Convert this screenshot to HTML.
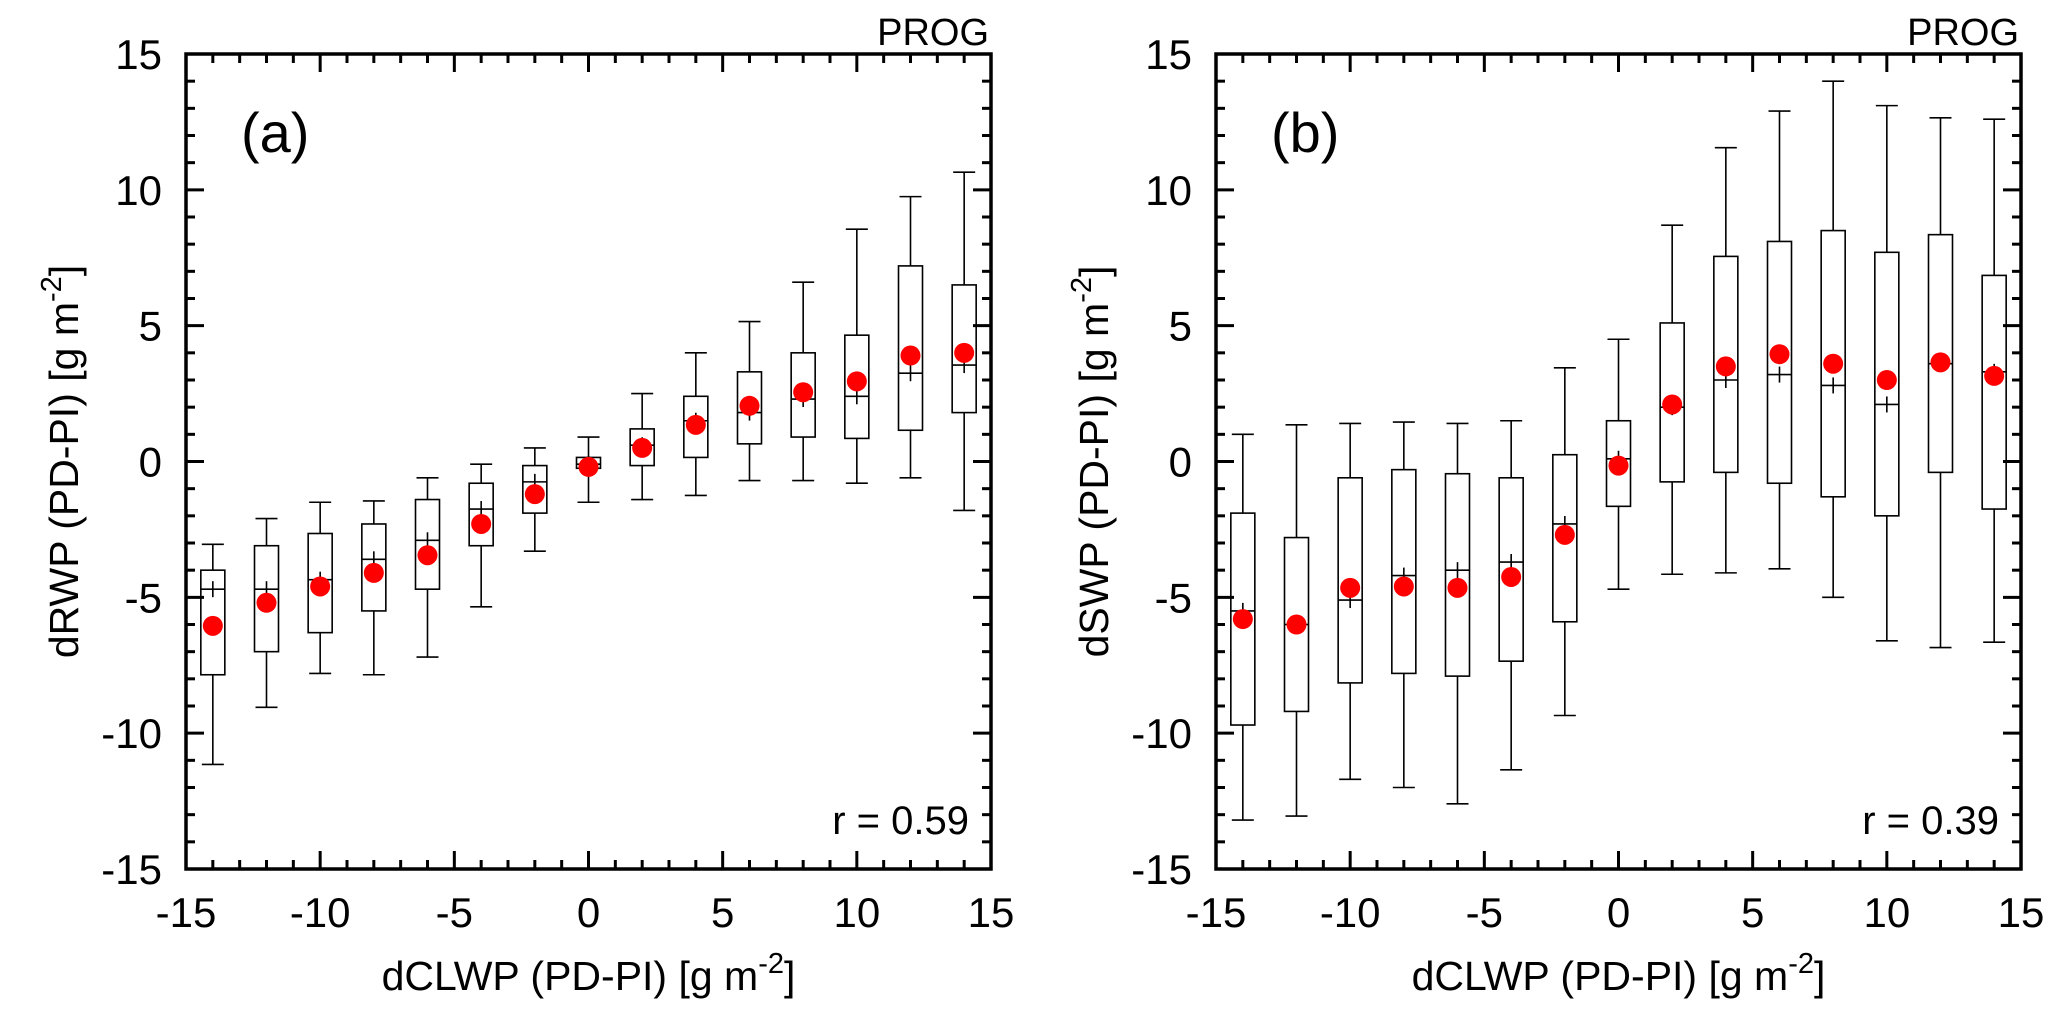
<!DOCTYPE html>
<html><head><meta charset="utf-8"><style>
body{margin:0;background:#fff;}
svg text{font-family:"Liberation Sans",Arial,sans-serif;fill:#000;}
</style></head><body>
<svg id="chart" width="2067" height="1016" xmlns="http://www.w3.org/2000/svg"></svg>
<script>
const categories = [-14,-12,-10,-8,-6,-4,-2,0,2,4,6,8,10,12,14];
// panel a (dRWP)
const aWhiskerHigh = [-3.05,-2.1,-1.5,-1.45,-0.6,-0.1,0.5,0.9,2.5,4.0,5.15,6.6,8.55,9.75,10.65];
const aQ3 = [-4.0,-3.1,-2.65,-2.3,-1.4,-0.8,-0.15,0.15,1.2,2.4,3.3,4.0,4.65,7.2,6.5];
const aMedian = [-4.7,-4.7,-4.35,-3.6,-2.9,-1.75,-0.75,-0.1,0.6,1.5,1.8,2.3,2.4,3.25,3.55];
const aQ1 = [-7.85,-7.0,-6.3,-5.5,-4.7,-3.1,-1.9,-0.25,-0.15,0.15,0.65,0.9,0.85,1.15,1.8];
const aWhiskerLow = [-11.15,-9.05,-7.8,-7.85,-7.2,-5.35,-3.3,-1.5,-1.4,-1.25,-0.7,-0.7,-0.8,-0.6,-1.8];
const aMean = [-6.05,-5.2,-4.6,-4.1,-3.45,-2.3,-1.2,-0.2,0.5,1.35,2.05,2.55,2.95,3.9,4.0];
// panel b (dSWP)
const bWhiskerHigh = [1.0,1.35,1.4,1.45,1.4,1.5,3.45,4.5,8.7,11.55,12.9,14.0,13.1,12.65,12.6];
const bQ3 = [-1.9,-2.8,-0.6,-0.3,-0.45,-0.6,0.25,1.5,5.1,7.55,8.1,8.5,7.7,8.35,6.85];
const bMedian = [-5.5,-6.0,-5.1,-4.2,-4.0,-3.7,-2.3,0.1,2.0,3.0,3.2,2.8,2.1,3.6,3.3];
const bQ1 = [-9.7,-9.2,-8.15,-7.8,-7.9,-7.35,-5.9,-1.65,-0.75,-0.4,-0.8,-1.3,-2.0,-0.4,-1.75];
const bWhiskerLow = [-13.2,-13.05,-11.7,-12.0,-12.6,-11.35,-9.35,-4.7,-4.15,-4.1,-3.95,-5.0,-6.6,-6.85,-6.65];
const bMean = [-5.8,-6.0,-4.65,-4.6,-4.65,-4.25,-2.7,-0.15,2.1,3.5,3.95,3.6,3.0,3.65,3.15];
const tickLabels = [-15,-10,-5,0,5,10,15];

const NS="http://www.w3.org/2000/svg";
const svg=document.getElementById('chart');
function mk(tag,attrs,parent){const e=document.createElementNS(NS,tag);for(const k in attrs)e.setAttribute(k,attrs[k]);(parent||svg).appendChild(e);return e;}

function panel(id,left,ytitle,label,r,wh,q3,med,q1,wl,mean){
  const right=left+805, top=54, bottom=869;
  const X=v=>left+(v+15)/30*(right-left);
  const Y=v=>bottom-(v+15)/30*(bottom-top);
  const g=mk('g',{});
  
  
  for(let v=-15;v<=15;v++){
    const major=v%5===0, L=major?18:9;
    const t1=mk('line',{x1:X(v),x2:X(v),y1:bottom,y2:bottom-L,stroke:'#000','stroke-width':3},g);
    
    
    mk('line',{x1:X(v),x2:X(v),y1:top,y2:top+L,stroke:'#000','stroke-width':3},g);
    const t2=mk('line',{x1:left,x2:left+L,y1:Y(v),y2:Y(v),stroke:'#000','stroke-width':3},g);
    
    
    mk('line',{x1:right,x2:right-L,y1:Y(v),y2:Y(v),stroke:'#000','stroke-width':3},g);
  }
  tickLabels.forEach(v=>{
    const tx=mk('text',{x:X(v),y:bottom+58,'text-anchor':'middle','font-size':42},g);
    tx.textContent=v;
    
    
    const ty=mk('text',{x:left-24,y:Y(v)+15,'text-anchor':'end','font-size':42},g);
    ty.textContent=v;
    
    
  });
  const bw=12, cw=11;
  categories.forEach((c,i)=>{
    const x=X(c);
    const bx=mk('g',{},g);
    
    
    mk('line',{x1:x,x2:x,y1:Y(wh[i]),y2:Y(q3[i]),stroke:'#000','stroke-width':1.6},bx);
    mk('line',{x1:x,x2:x,y1:Y(q1[i]),y2:Y(wl[i]),stroke:'#000','stroke-width':1.6},bx);
    mk('line',{x1:x-cw,x2:x+cw,y1:Y(wh[i]),y2:Y(wh[i]),stroke:'#000','stroke-width':1.6},bx);
    mk('line',{x1:x-cw,x2:x+cw,y1:Y(wl[i]),y2:Y(wl[i]),stroke:'#000','stroke-width':1.6},bx);
    mk('rect',{x:x-bw,y:Y(q3[i]),width:2*bw,height:Math.max(1,Y(q1[i])-Y(q3[i])),fill:'none',stroke:'#000','stroke-width':1.6},bx);
    mk('line',{x1:x-bw,x2:x+bw,y1:Y(med[i]),y2:Y(med[i]),stroke:'#000','stroke-width':1.6},bx);
    mk('line',{x1:x,x2:x,y1:Y(med[i])-8,y2:Y(med[i])+8,stroke:'#000','stroke-width':1.6},bx);
    const m=mk('circle',{cx:x,cy:Y(mean[i]),r:10,fill:'#f00'},g);
    
    
  });
  const fr=mk('rect',{x:left,y:top,width:right-left,height:bottom-top,fill:'none',stroke:'#000','stroke-width':3.5},g);
  
  
  const xt=mk('text',{x:(left+right)/2,y:990,'text-anchor':'middle','font-size':41},g);
  xt.innerHTML='dCLWP (PD-PI) [g m<tspan dy="-17" font-size="29">-2</tspan><tspan dy="17">]</tspan>';
  
  
  const yt=mk('text',{x:0,y:0,'text-anchor':'middle','font-size':41,transform:`translate(${left-108},${(top+bottom)/2}) rotate(-90)`},g);
  yt.innerHTML=ytitle+' (PD-PI) [g m<tspan dy="-17" font-size="29">-2</tspan><tspan dy="17">]</tspan>';
  
  
  const pl=mk('text',{x:left+55,y:152,'font-size':56},g);
  pl.textContent=label;
  
  
  const rt=mk('text',{x:right-22,y:834,'text-anchor':'end','font-size':40},g);
  rt.textContent='r = '+r;
  
  
  const pg=mk('text',{x:right-2,y:45,'text-anchor':'end','font-size':38},g);
  pg.textContent='PROG';
  
  
}
panel('a',186,'dRWP','(a)','0.59',aWhiskerHigh,aQ3,aMedian,aQ1,aWhiskerLow,aMean);
panel('b',1216,'dSWP','(b)','0.39',bWhiskerHigh,bQ3,bMedian,bQ1,bWhiskerLow,bMean);
</script>
</body></html>
